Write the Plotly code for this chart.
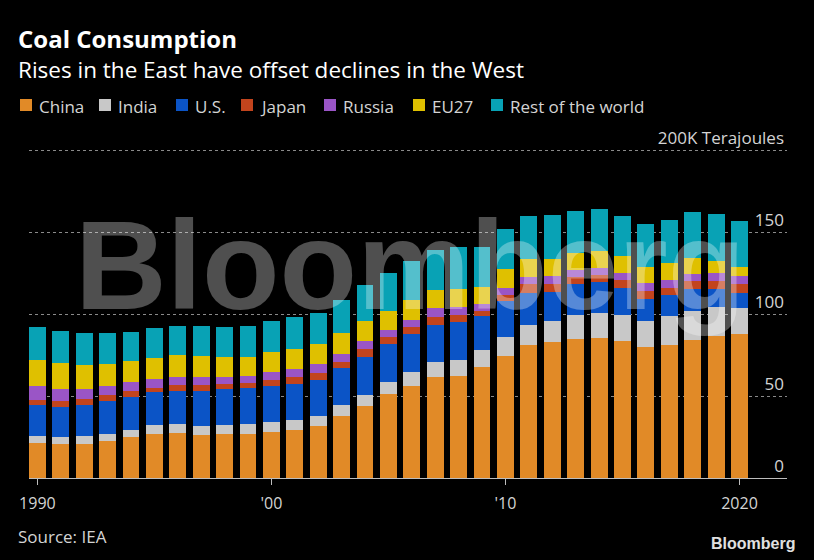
import plotly.graph_objects as go

years = list(range(1990, 2021))

china = [21.6, 20.8, 20.8, 22.5, 24.9, 26.9, 27.7, 26.3, 26.7, 26.9,
         28.1, 29.5, 32.0, 38.0, 44.1, 51.0, 56.2, 61.5, 62.1, 67.6,
         74.4, 81.3, 82.7, 84.7, 85.2, 83.7, 79.7, 81.3, 84.3, 86.8, 87.6]
india = [4.1, 3.9, 4.7, 4.4, 4.4, 5.3, 5.3, 5.7, 5.5, 5.9,
         5.9, 6.1, 5.8, 6.7, 6.7, 7.7, 8.3, 9.1, 9.9, 10.7,
         11.6, 12.1, 13.2, 14.8, 15.7, 15.8, 16.2, 17.2, 17.6, 17.2, 15.8]
us = [18.8, 18.8, 19.2, 20.0, 19.8, 20.0, 20.2, 21.2, 21.8, 21.8,
      22.2, 22.0, 22.1, 22.3, 23.0, 22.8, 23.3, 22.8, 23.1, 20.6,
      22.0, 19.7, 17.8, 18.6, 18.6, 16.6, 13.5, 13.2, 13.6, 11.5, 9.7]
japan = [3.2, 3.2, 3.6, 3.9, 3.9, 2.6, 3.6, 3.6, 3.2, 3.2,
         3.5, 3.7, 4.4, 4.0, 5.1, 4.5, 4.2, 4.9, 4.2, 3.0,
         3.5, 5.0, 4.8, 4.7, 4.5, 4.7, 4.7, 4.4, 4.6, 4.6, 5.0]
russia = [8.1, 7.7, 6.1, 5.0, 5.3, 5.7, 4.9, 4.9, 4.5, 4.7,
          5.2, 5.2, 5.5, 4.6, 4.8, 4.2, 4.3, 5.1, 5.1, 4.5,
          4.6, 4.5, 4.7, 4.0, 4.2, 4.0, 5.0, 4.7, 4.5, 5.1, 5.1]
eu27 = [16.2, 15.6, 14.8, 14.0, 13.1, 12.9, 13.5, 12.5, 12.3, 11.5,
        12.0, 12.0, 11.7, 12.8, 12.2, 11.7, 12.5, 11.5, 11.1, 10.1,
        11.1, 10.7, 10.5, 10.1, 10.1, 10.5, 9.5, 10.1, 9.3, 7.1, 5.4]
rest = [19.8, 19.4, 19.0, 18.4, 17.6, 18.2, 17.2, 18.2, 17.8, 18.4,
        19.0, 19.6, 19.4, 20.2, 22.0, 22.9, 23.5, 24.1, 25.3, 24.1,
        24.9, 26.3, 26.7, 25.9, 25.9, 24.3, 26.5, 26.7, 28.1, 28.9, 28.0]

series_names = ["China", "India", "U.S.", "Japan", "Russia", "EU27", "Rest of the world"]
series_values = [china, india, us, japan, russia, eu27, rest]
series_colors = ["#e18a27", "#c8c8c8", "#0b54c6", "#c2441d", "#9a55c6", "#dfc000", "#08a2b5"]

y_tickvals = [0, 50, 100, 150, 200]
y_ticktext = ["0", "50", "100", "150", "200K Terajoules"]
x_tickvals = [1990, 2000, 2010, 2020]
x_ticktext = ["1990", "'00", "'10", "2020"]

# layout geometry (pixels)
W, H = 814, 560
ML, MR, MT, MB = 29, 27, 112, 82
PW, PH = W - ML - MR, H - MT - MB
PX_PER_UNIT = 1.64
Y_TOP = PH / PX_PER_UNIT
legend_square_x = [20, 99, 176, 241, 324, 413, 491]
legend_y = 105


def px(x):
    return (x - ML) / PW


def py(y):
    return (H - MB - y) / PH


fig = go.Figure()
for name, vals, col in zip(series_names, series_values, series_colors):
    fig.add_trace(go.Bar(x=years, y=vals, name=name, marker=dict(color=col, line=dict(width=0))))

FONT = "Open Sans, Noto Sans, DejaVu Sans, sans-serif"
TXT = "#d4d4d4"

fig.update_layout(
    width=W, height=H,
    barmode="stack", bargap=0.28,
    paper_bgcolor="black", plot_bgcolor="black",
    margin=dict(l=ML, r=MR, t=MT, b=MB, autoexpand=False),
    font=dict(family=FONT, color=TXT, size=16),
    showlegend=False,
    xaxis=dict(range=[1989.64, 2022.03], tickvals=x_tickvals, ticktext=x_ticktext,
               showgrid=False, zeroline=False, showline=True, linecolor="#bdbdbd", linewidth=1,
               ticks="outside", ticklen=6, tickcolor="#bdbdbd", ticklabelstandoff=5,
               ticklabeloverflow="allow", tickfont=dict(size=16, color=TXT)),
    yaxis=dict(range=[0, Y_TOP], tickvals=y_tickvals, ticktext=y_ticktext, side="right",
               ticklabelposition="inside top", showgrid=True, gridcolor="#8a8a8a", griddash="dot",
               gridwidth=1, zeroline=False, showline=False, ticks="",
               ticklabeloverflow="allow", tickfont=dict(size=17, color=TXT)),
)

annotations = [
    dict(text="<b>Coal Consumption</b>", x=px(16), y=py(38.5), xanchor="left", yanchor="middle",
         font=dict(size=24, color="white", family=FONT)),
    dict(text="Rises in the East have offset declines in the West", x=px(16), y=py(69),
         xanchor="left", yanchor="middle", font=dict(size=22.5, color="white", family=FONT)),
    dict(text="Source: IEA", x=px(16), y=py(536), xanchor="left", yanchor="middle",
         font=dict(size=17, color=TXT, family=FONT)),
    dict(text="<b>Bloomberg</b>", x=px(797), y=py(543), xanchor="right", yanchor="middle",
         font=dict(size=16, color="#e0e0e0", family="Liberation Sans, Arial, sans-serif")),
    dict(text="<b>Bloomberg</b>", x=px(410), y=py(265), xanchor="center", yanchor="middle",
         font=dict(size=127, color="rgba(255,255,255,0.31)", family="Liberation Sans, Arial, sans-serif")),
]
shapes = []
for sx, name, col in zip(legend_square_x, series_names, series_colors):
    shapes.append(dict(type="rect", xref="paper", yref="paper",
                       x0=px(sx), x1=px(sx + 12), y0=py(legend_y + 6), y1=py(legend_y - 6),
                       fillcolor=col, line=dict(width=0)))
    annotations.append(dict(text=name, x=px(sx + 17), y=py(legend_y + 1), xanchor="left",
                            yanchor="middle", font=dict(size=17, color=TXT, family=FONT)))
for a in annotations:
    a.update(xref="paper", yref="paper", showarrow=False)
fig.update_layout(annotations=annotations, shapes=shapes)

fig.write_html("out.html")
